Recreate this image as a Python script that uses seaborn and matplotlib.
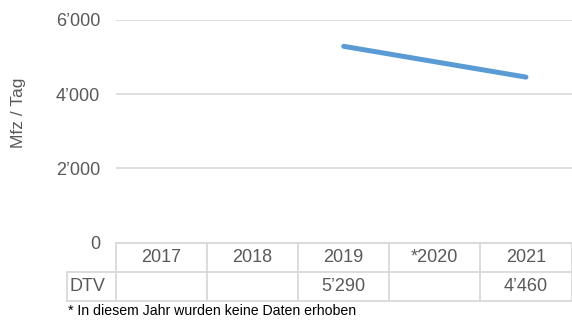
import matplotlib
matplotlib.use("Agg")
import matplotlib.pyplot as plt
import matplotlib.ticker as mticker
import seaborn as sns
import pandas as pd
import numpy as np

# Data
years = ["2017", "2018", "2019", "*2020", "2021"]
dtv = [None, None, 5290, None, 4460]
row_label = "DTV"
y_label = "Mfz / Tag"
footnote = "* In diesem Jahr wurden keine Daten erhoben"
y_ticks = [0, 2000, 4000, 6000]

sns.set_theme(style="white")
plt.rcParams["font.family"] = ["Liberation Sans", "DejaVu Sans"]

TEXT = "#595959"
GRID = "#d9d9d9"
LINE = "#5b9bd5"

def fmt(v):
    return f"{int(v):,}".replace(",", "\u2019")

df = pd.DataFrame({"pos": np.arange(len(years)), "year": years, "dtv": dtv})
df_valid = df.dropna(subset=["dtv"])

fig = plt.figure(figsize=(5.72, 3.2), dpi=100)
W, H = 572, 320
left_px, right_px, top_px, bottom_px = 116, 571.5, 20, 242.5
ax = fig.add_axes([left_px / W, 1 - bottom_px / H,
                   (right_px - left_px) / W, (bottom_px - top_px) / H])

sns.lineplot(data=df_valid, x="pos", y="dtv", ax=ax, color=LINE,
             linewidth=3.6, solid_capstyle="round", legend=False)

ax.set_xlim(-0.5, len(years) - 0.5)
ax.set_ylim(0, 6000)
ax.set_yticks(y_ticks)
ax.yaxis.set_major_formatter(mticker.FuncFormatter(lambda v, p: fmt(v)))
ax.set_xticks([])
ax.set_xlabel("")
ax.set_ylabel("")
ax.tick_params(axis="y", length=0, pad=11.5, labelsize=13, labelcolor=TEXT)
for s in ax.spines.values():
    s.set_visible(False)
ax.grid(axis="y", color=GRID, linewidth=1.2)
ax.set_axisbelow(True)

fig.text(18 / W, 1 - 113 / H, y_label, rotation=90, ha="center", va="center",
         fontsize=12.5, color=TEXT)

# Data table below the plot
ax_h = bottom_px - top_px
def ay(px):
    return -(px - bottom_px) / ax_h

r0, r1, r2 = 242.5, 271.5, 300.5
colw = (right_px - left_px) / len(years)
dtv_left = -0.5 - (left_px - 67) / colw
lk = dict(color=GRID, linewidth=1.3, clip_on=False, transform=ax.get_xaxis_transform())
ax.plot([-0.5, len(years) - 0.5], [ay(r0)] * 2, **lk)
ax.plot([dtv_left, len(years) - 0.5], [ay(r1)] * 2, **lk)
ax.plot([dtv_left, len(years) - 0.5], [ay(r2)] * 2, **lk)
ax.plot([dtv_left, dtv_left], [ay(r1), ay(r2)], **lk)
for i in range(len(years) + 1):
    ax.plot([i - 0.5, i - 0.5], [ay(r0), ay(r2)], **lk)

tk = dict(transform=ax.get_xaxis_transform(), fontsize=13, color=TEXT,
          va="center", clip_on=False)
for i, (yr, v) in enumerate(zip(years, dtv)):
    ax.text(i, ay((r0 + r1) / 2 + 0.5), yr, ha="center", **tk)
    if v is not None:
        ax.text(i, ay((r1 + r2) / 2 + 0.5), fmt(v), ha="center", **tk)
ax.text(dtv_left + 3 / colw, ay((r1 + r2) / 2 + 0.5), row_label, ha="left", **tk)

fig.text(68 / W, 1 - 311 / H, footnote, ha="left", va="center",
         fontsize=10.2, color="black")

fig.savefig("out.png", dpi=100)
